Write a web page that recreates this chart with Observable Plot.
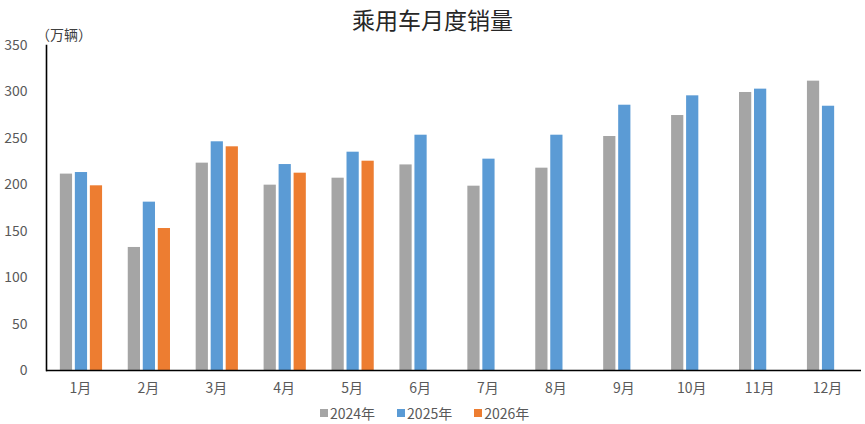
<!DOCTYPE html>
<html>
<head>
<meta charset="utf-8">
<script src="https://cdn.jsdelivr.net/npm/d3@7"></script>
<script src="https://cdn.jsdelivr.net/npm/@observablehq/plot@0.6"></script>
<style>
  body { margin: 0; background: #fff; }
  #wrap { position: relative; width: 865px; height: 424px; overflow: hidden; font-family: "Noto Sans CJK SC", "Noto Sans", sans-serif; }
  #title { position: absolute; top: 2px; left: 0; width: 865px; text-align: center; font-size: 23px; color: #262626; }
  #unit { position: absolute; top: 24px; left: 36px; font-size: 14px; color: #404040; }
  #legend { position: absolute; top: 403px; left: 320px; display: flex; gap: 22px; font-size: 14px; color: #595959; align-items: center; }
  #legend span.item { display: flex; align-items: center; gap: 2px; }
  #legend span.sw { width: 8px; height: 8px; display: inline-block; }
</style>
</head>
<body>
<div id="wrap">
  <div id="chart"></div>
  <div id="title">乘用车月度销量</div>
  <div id="unit">（万辆）</div>
  <div id="legend"></div>
</div>
<script>
const months = ["1月","2月","3月","4月","5月","6月","7月","8月","9月","10月","11月","12月"];
const years = ["2024年","2025年","2026年"];
const colors = ["#A5A5A5","#5B9BD5","#ED7D31"];
const sales2024 = [211.5, 132.5, 223.3, 199.6, 207.1, 221.4, 198.5, 217.9, 252.0, 274.6, 299.4, 311.6];
const sales2025 = [213.2, 181.3, 246.3, 221.8, 235.1, 253.4, 227.6, 253.4, 285.7, 295.8, 303.0, 284.6];
const sales2026 = [198.9, 152.9, 240.9, 212.5, 225.4];
const yTicks = [0, 50, 100, 150, 200, 250, 300, 350];

const series = [sales2024, sales2025, sales2026];
const rows = [];
series.forEach((vals, j) => vals.forEach((v, i) => rows.push({month: months[i], year: years[j], value: v})));

const offsets = [-15, 0, 15];
const barMarks = years.map((yr, j) => Plot.barY(rows.filter(d => d.year === yr), {
  x: "month", y: "value", fill: colors[j], dx: offsets[j] + 1
}));

const chart = Plot.plot({
  width: 865,
  height: 398,
  marginTop: 45,
  marginBottom: 28,
  marginLeft: 46,
  marginRight: 4,
  style: { fontFamily: "'Noto Sans CJK SC', 'Noto Sans', sans-serif", fontSize: "14px", color: "#595959", background: "#fff" },
  x: { domain: months, paddingInner: 0.82, paddingOuter: 0.41, round: false, label: null, tickSize: 0, tickPadding: 13 },
  y: { domain: [0, 350], ticks: yTicks, label: null, tickSize: 0, tickPadding: 19 },
  marks: [
    ...barMarks,
    Plot.ruleY([0], { stroke: "#000", strokeWidth: 1.6 }),
    Plot.frame({ anchor: "left", stroke: "#000", strokeWidth: 1.6 })
  ]
});
document.getElementById("chart").appendChild(chart);

const legend = document.getElementById("legend");
years.forEach((yr, j) => {
  const it = document.createElement("span");
  it.className = "item";
  const sw = document.createElement("span");
  sw.className = "sw";
  sw.style.background = colors[j];
  it.appendChild(sw);
  const t = document.createElement("span");
  t.textContent = yr;
  it.appendChild(t);
  legend.appendChild(it);
});
</script>
</body>
</html>
